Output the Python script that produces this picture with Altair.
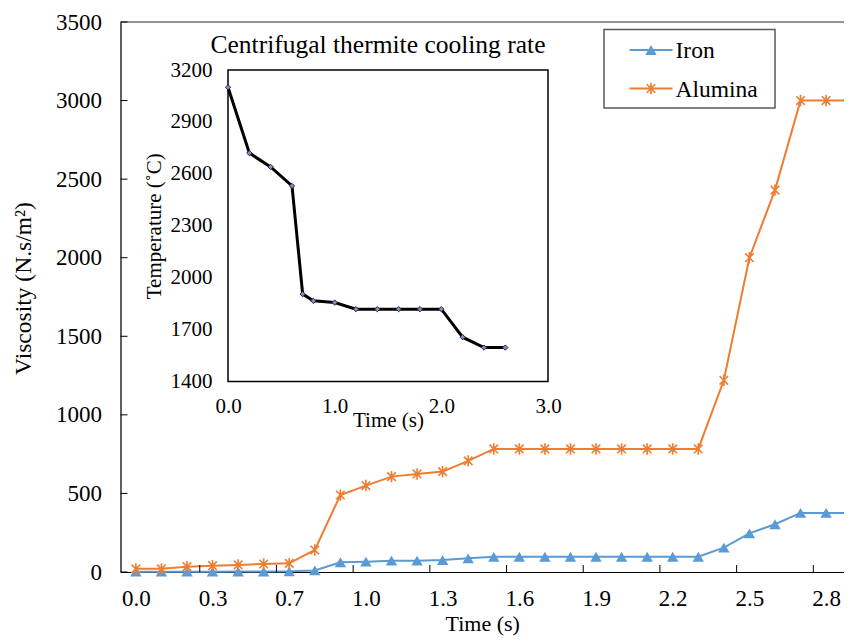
import altair as alt
import pandas as pd

# ---------------- data ----------------
series_names = ["Iron", "Alumina"]
series_colors = ["#5B9BD5", "#ED7D31"]
time_index = list(range(29))
iron = [2, 2, 2, 2, 3, 3, 4, 10, 62, 66, 72, 72, 76, 87,
        97, 97, 97, 97, 97, 97, 97, 97, 97, 155, 246, 304, 376, 376, 376]
alumina = [20, 20, 34, 40, 45, 51, 55, 140, 490, 550, 607, 624, 639, 707,
           783, 783, 783, 783, 783, 783, 783, 783, 783, 1220, 2000, 2430, 3000, 3000, 3000]
x_tick_labels = ["0.0", "0.3", "0.7", "1.0", "1.3", "1.6", "1.9", "2.2", "2.5", "2.8"]
x_label_index = [0, 3, 6, 9, 12, 15, 18, 21, 24, 27]
y_ticks = [0, 500, 1000, 1500, 2000, 2500, 3000, 3500]

inset_time = [0.0, 0.2, 0.4, 0.6, 0.7, 0.8, 1.0, 1.2, 1.4, 1.6, 1.8, 2.0, 2.2, 2.4, 2.6]
inset_temp = [3100, 2720, 2640, 2530, 1905, 1866, 1856, 1818, 1818, 1818, 1818, 1818, 1656, 1596, 1596]
inset_x_ticks = [0.0, 1.0, 2.0, 3.0]
inset_y_ticks = [1400, 1700, 2000, 2300, 2600, 2900, 3200]
inset_title = "Centrifugal thermite cooling rate"

FONT = "Liberation Serif"
PL = 112.5
W, H = 836 - PL, 550

iron_df = pd.DataFrame({"idx": time_index, "v": iron})
alu_df = pd.DataFrame({"idx": time_index, "v": alumina})
ytick_df = pd.DataFrame({"v": y_ticks})
xtick_df = pd.DataFrame({"idx": [i + 2.5 for i in x_label_index]})
inset_df = pd.DataFrame({"t": inset_time, "T": inset_temp})
frame_df = pd.DataFrame({"t": [inset_x_ticks[0]], "t2": [inset_x_ticks[-1]],
                         "T": [inset_y_ticks[0]], "T2": [inset_y_ticks[-1]]})
one = alt.Data(values=[{}])

# ---------------- main scales / axes ----------------
mx_scale = alt.Scale(domain=[-0.6, 27.7], nice=False, zero=False)
my_scale = alt.Scale(domain=[0, 3500], nice=False, zero=False)

label_arr = "[" + ",".join("'%s'" % s for s in x_tick_labels) + "]"
mx_axis = alt.Axis(values=x_label_index, labelExpr=label_arr + "[round(datum.value/3)]",
                   tickSize=0, domainColor="black", domainWidth=1.2, grid=False, labelFlush=False,
                   labelFont=FONT, labelFontSize=23, labelColor="black", labelPadding=15,
                   title="Time (s)", titleFont=FONT, titleFontSize=22, titleFontWeight="normal",
                   titleColor="black", titlePadding=3)
my_axis = alt.Axis(values=y_ticks, format="d", tickSize=0, domainColor="black", domainWidth=1.2,
                   grid=False, labelFlush=False,
                   labelFont=FONT, labelFontSize=23, labelColor="black", labelPadding=19,
                   title="Viscosity (N.s/m²)", titleFont=FONT, titleFontSize=23.5,
                   titleFontWeight="normal", titleColor="black", titlePadding=20, titleY=266)

def mx(field="idx"):
    return alt.X(f"{field}:Q", scale=mx_scale, axis=mx_axis)

def my(field="v"):
    return alt.Y(f"{field}:Q", scale=my_scale, axis=my_axis)

iron_line = alt.Chart(iron_df).mark_line(color=series_colors[0], strokeWidth=2).encode(x=mx(), y=my())
alu_line = alt.Chart(alu_df).mark_line(color=series_colors[1], strokeWidth=2).encode(x=mx(), y=my())

ASTER = "M-0.75,-0.75L0.75,0.75M-0.75,0.75L0.75,-0.75M0,-1L0,1"
iron_pts = alt.Chart(iron_df).mark_point(shape="triangle-up", filled=True, opacity=1,
                                         color=series_colors[0], size=130, clip=False).encode(x=mx(), y=my())
alu_pts = alt.Chart(alu_df).mark_point(shape=ASTER, filled=False, opacity=1, strokeWidth=1.6,
                                       color=series_colors[1], size=130, clip=False).encode(x=mx(), y=my())

top_border = alt.Chart(pd.DataFrame({"v": [y_ticks[-1]]})).mark_rule(
    color="#767676", strokeWidth=1.5).encode(y=my())
y_tick_marks = alt.Chart(ytick_df).mark_rule(color="black", strokeWidth=1).encode(
    y=my(), x=alt.value(0), x2=alt.value(7))
x_tick_marks = alt.Chart(xtick_df).mark_rule(color="black", strokeWidth=1).encode(
    x=mx(), y=alt.value(H - 7), y2=alt.value(H))

# ---------------- legend (drawn) ----------------
LX0, LX1, LY0, LY1 = 483.5, 654.5, 7.5, 86
leg_box = alt.Chart(one).mark_rect(fill="white", stroke="#595959", strokeWidth=1.5).encode(
    x=alt.value(LX0), x2=alt.value(LX1), y=alt.value(LY0), y2=alt.value(LY1))
leg_rows = [28, 66.5]
leg_layers = [leg_box]
for k, name in enumerate(series_names):
    yy = leg_rows[k]
    leg_layers.append(alt.Chart(one).mark_rule(color=series_colors[k], strokeWidth=2).encode(
        x=alt.value(509), x2=alt.value(552), y=alt.value(yy)))
    if k == 0:
        pt = alt.Chart(one).mark_point(shape="triangle-up", filled=True, opacity=1,
                                       color=series_colors[k], size=130)
    else:
        pt = alt.Chart(one).mark_point(shape=ASTER, filled=False, opacity=1, strokeWidth=1.6,
                                       color=series_colors[k], size=130)
    leg_layers.append(pt.encode(x=alt.value(530.5), y=alt.value(yy)))
    leg_layers.append(alt.Chart(one).mark_text(align="left", baseline="middle", font=FONT,
                                               fontSize=23.5, color="black").encode(
        x=alt.value(555), y=alt.value(yy + 1), text=alt.value(name)))

main = alt.layer(iron_line, alu_line, iron_pts, alu_pts, top_border,
                 y_tick_marks, x_tick_marks, *leg_layers)

# ---------------- inset ----------------
ix_scale = alt.Scale(domain=[0, 3], range=[107.5, 427.5], nice=False, zero=False)
iy_scale = alt.Scale(domain=[1400, 3200], range=[359.5, 48], nice=False, zero=False)
ix_axis = alt.Axis(orient="bottom", offset=-190.5, values=inset_x_ticks, format=".1f",
                   tickSize=0, domain=False, grid=False, labelFlush=False,
                   labelFont=FONT, labelFontSize=21, labelColor="black", labelPadding=14,
                   title="Time (s)", titleFont=FONT, titleFontSize=21, titleFontWeight="normal",
                   titleColor="black", titlePadding=-7)
iy_axis = alt.Axis(orient="left", offset=-107.5, values=inset_y_ticks, format="d",
                   tickSize=0, domain=False, grid=False, labelFlush=False,
                   labelFont=FONT, labelFontSize=21, labelColor="black", labelPadding=16,
                   title="Temperature (˚C)", titleFont=FONT, titleFontSize=21,
                   titleFontWeight="normal", titleColor="black", titlePadding=6)

def ix(field="t"):
    return alt.X(f"{field}:Q", scale=ix_scale, axis=ix_axis)

def iy(field="T"):
    return alt.Y(f"{field}:Q", scale=iy_scale, axis=iy_axis)

frame = alt.Chart(frame_df).mark_rect(fill="white", stroke="black", strokeWidth=1.5).encode(
    x=ix(), x2="t2:Q", y=iy(), y2="T2:Q")
inset_line = alt.Chart(inset_df).mark_line(color="black", strokeWidth=3).encode(x=ix(), y=iy())
inset_pts = alt.Chart(inset_df).mark_point(shape="diamond", filled=True, opacity=1, size=28,
                                           fill="#7F93B5", stroke="#1F2D4D",
                                           strokeWidth=1).encode(x=ix(), y=iy())
inset_ttl = alt.Chart(one).mark_text(font=FONT, fontSize=25.5, color="black",
                                     align="center", baseline="middle").encode(
    x=alt.value(257.5), y=alt.value(23), text=alt.value(inset_title))

inset = alt.layer(frame, inset_line, inset_pts, inset_ttl)

chart = alt.layer(main, inset).resolve_scale(x="independent", y="independent").properties(
    width=W, height=H,
    padding={"left": PL, "top": 14, "right": 0, "bottom": 64},
    autosize=alt.AutoSizeParams(type="none"),
).configure_view(stroke=None).configure(font=FONT)

chart.save("out.html", embed_options={"renderer": "svg", "actions": False})
